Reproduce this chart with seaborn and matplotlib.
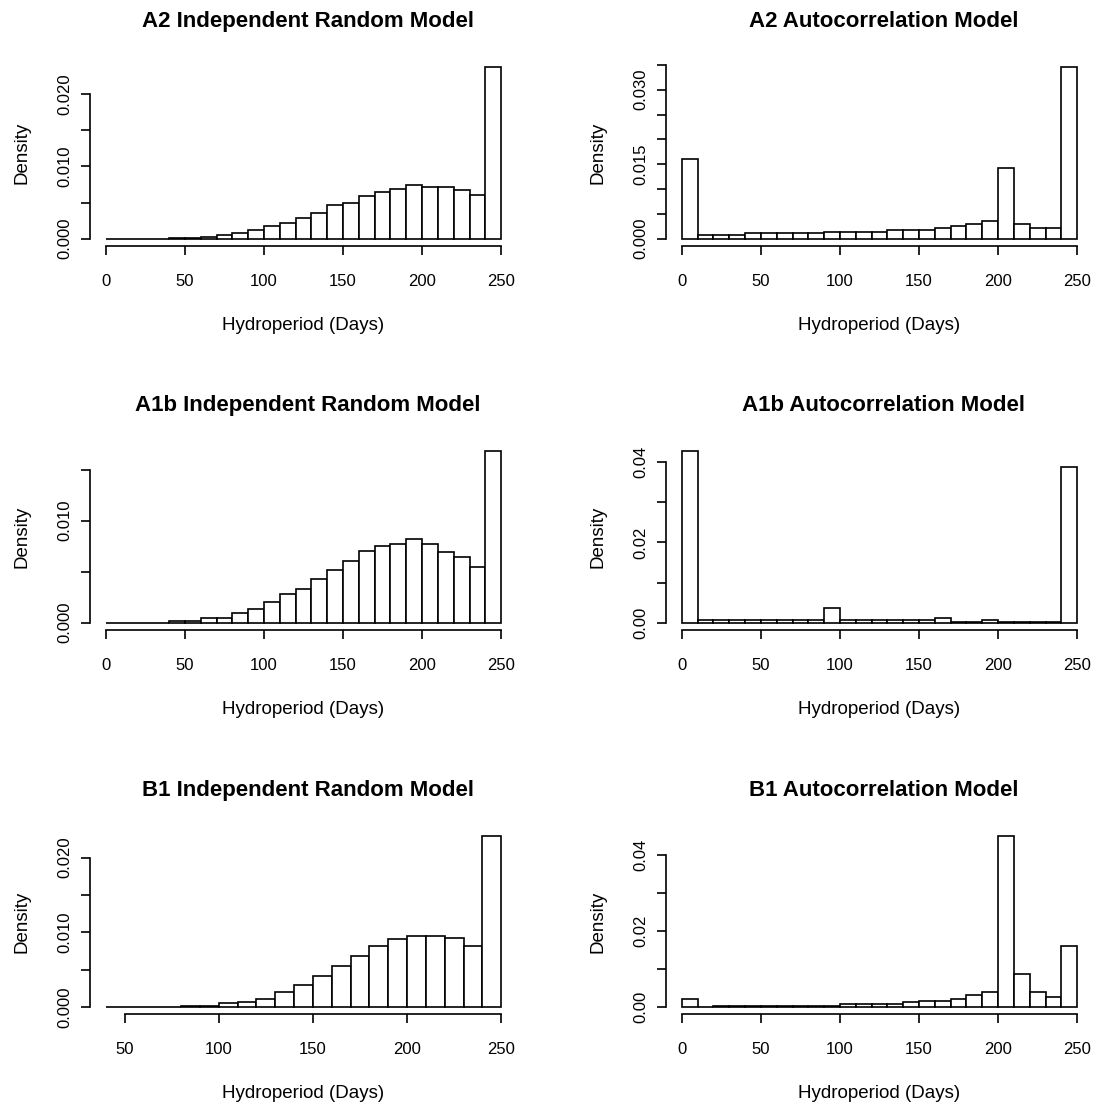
import matplotlib
matplotlib.use("Agg")
import matplotlib.pyplot as plt
import seaborn as sns
import numpy as np
import pandas as pd

# density per 10-day bin
a2_ind_start = 0
a2_ind_density = [0, 0, 0, 0, 0.0001, 0.0001, 0.0002, 0.0005, 0.0008, 0.0012,
                  0.0017, 0.0022, 0.0029, 0.0036, 0.0046, 0.0050, 0.0059, 0.0064,
                  0.0069, 0.0074, 0.0071, 0.0071, 0.0067, 0.0060, 0.0237]

a2_auto_start = 0
a2_auto_density = [0.0160, 0.00074, 0.00074, 0.00074, 0.00114, 0.00114, 0.00114,
                   0.00114, 0.00114, 0.0014, 0.0014, 0.0014, 0.0014, 0.00174,
                   0.00174, 0.00174, 0.00215, 0.0025, 0.0029, 0.0036, 0.0143,
                   0.0029, 0.0021, 0.0021, 0.0345]

a1b_ind_start = 0
a1b_ind_density = [0, 0, 0, 0, 0.00013, 0.00013, 0.00046, 0.00046, 0.00098, 0.0013,
                   0.0020, 0.0028, 0.0033, 0.0043, 0.0052, 0.0060, 0.0070, 0.0075,
                   0.0077, 0.0082, 0.0077, 0.0069, 0.0064, 0.0055, 0.0168]

a1b_auto_start = 0
a1b_auto_density = [0.0427, 0.0006, 0.0006, 0.0006, 0.0006, 0.0006, 0.0006, 0.0006,
                    0.0006, 0.0037, 0.0006, 0.0006, 0.0006, 0.0006, 0.0006, 0.0006,
                    0.0012, 0.00025, 0.00025, 0.0007, 0.00025, 0.00025, 0.00025,
                    0.00025, 0.0388]

b1_ind_start = 40
b1_ind_density = [0, 0, 0, 0, 0.00013, 0.00013, 0.0005, 0.0007, 0.0011, 0.0020,
                  0.0030, 0.0041, 0.0055, 0.0069, 0.0082, 0.0091, 0.0095, 0.0095,
                  0.0092, 0.0082, 0.0229]

b1_auto_start = 0
b1_auto_density = [0.0022, 0, 0.0003, 0.0003, 0.0003, 0.0003, 0.0003, 0.0003, 0.0003,
                   0.0003, 0.0008, 0.0008, 0.0008, 0.0008, 0.0013, 0.0017, 0.0017,
                   0.0022, 0.0031, 0.0040, 0.0450, 0.0086, 0.0040, 0.0026, 0.0161]

titles = ["A2 Independent Random Model", "A2 Autocorrelation Model",
          "A1b Independent Random Model", "A1b Autocorrelation Model",
          "B1 Independent Random Model", "B1 Autocorrelation Model"]

xticks_full = [0, 50, 100, 150, 200, 250]
xticks_b1 = [50, 100, 150, 200, 250]

yticks_020 = [0, 0.005, 0.010, 0.015, 0.020]
ylabels_020 = ["0.000", "", "0.010", "", "0.020"]
yticks_035 = [0, 0.005, 0.010, 0.015, 0.020, 0.025, 0.030, 0.035]
ylabels_035 = ["0.000", "", "", "0.015", "", "", "0.030", ""]
yticks_015 = [0, 0.005, 0.010, 0.015]
ylabels_015 = ["0.000", "", "0.010", ""]
yticks_04 = [0, 0.01, 0.02, 0.03, 0.04]
ylabels_04 = ["0.00", "", "0.02", "", "0.04"]

panels = [
    (a2_ind_start, a2_ind_density, xticks_full, yticks_020, ylabels_020),
    (a2_auto_start, a2_auto_density, xticks_full, yticks_035, ylabels_035),
    (a1b_ind_start, a1b_ind_density, xticks_full, yticks_015, ylabels_015),
    (a1b_auto_start, a1b_auto_density, xticks_full, yticks_04, ylabels_04),
    (b1_ind_start, b1_ind_density, xticks_b1, yticks_020, ylabels_020),
    (b1_auto_start, b1_auto_density, xticks_full, yticks_04, ylabels_04),
]

sns.set_style("ticks")
plt.rcParams["font.family"] = ["Liberation Sans", "DejaVu Sans"]
plt.rcParams["text.color"] = "black"
plt.rcParams["axes.labelcolor"] = "black"
plt.rcParams["xtick.color"] = "black"
plt.rcParams["ytick.color"] = "black"

W, H = 1114, 1107
fig = plt.figure(figsize=(W / 100, H / 100), dpi=100)

col_left = [90, 666]
col_width = 427
row_top = [60.5, 444.5, 829]
row_height = 185

for i, (start, dens, xticks, yticks, ylabels) in enumerate(panels):
    r, c = divmod(i, 2)
    left = col_left[c]
    top = row_top[r]
    ax = fig.add_axes([left / W, 1 - (top + row_height) / H, col_width / W, row_height / H])

    edges = list(range(start, 251, 10))
    df = pd.DataFrame({"days": [e + 5 for e in edges[:-1]], "density": dens})
    sns.histplot(data=df, x="days", weights="density", bins=edges, stat="count",
                 color="white", edgecolor="black", linewidth=1.2, alpha=1, ax=ax)

    span = 250 - start
    ax.set_xlim(start - 0.04 * span, 250 + 0.04 * span)
    ymax = max(dens)
    ax.set_ylim(-0.04 * ymax, 1.04 * ymax)

    sns.despine(ax=ax)
    for s in ["left", "bottom"]:
        ax.spines[s].set_linewidth(1.2)
        ax.spines[s].set_color("black")
    ax.spines["bottom"].set_bounds(xticks[0], xticks[-1])
    ax.spines["left"].set_bounds(yticks[0], yticks[-1])

    ax.set_xticks(xticks)
    ax.set_xticklabels([str(t) for t in xticks], fontsize=12)
    ax.set_yticks(yticks)
    ax.set_yticklabels(ylabels, rotation=90, va="center", fontsize=12)
    ax.tick_params(axis="both", direction="out", length=6.5, width=1.2, color="black")
    ax.tick_params(axis="x", pad=14)
    ax.tick_params(axis="y", pad=6)

    ax.set_title(titles[i], fontsize=16, fontweight="bold", pad=24, x=0.51)
    ax.set_xlabel("Hydroperiod (Days)", fontsize=13.5)
    ax.set_ylabel("Density", fontsize=13.5)
    ax.xaxis.set_label_coords(0.5, -0.385)
    ax.yaxis.set_label_coords(-0.14, 0.5)

fig.savefig("out.png", dpi=100, facecolor="white")
